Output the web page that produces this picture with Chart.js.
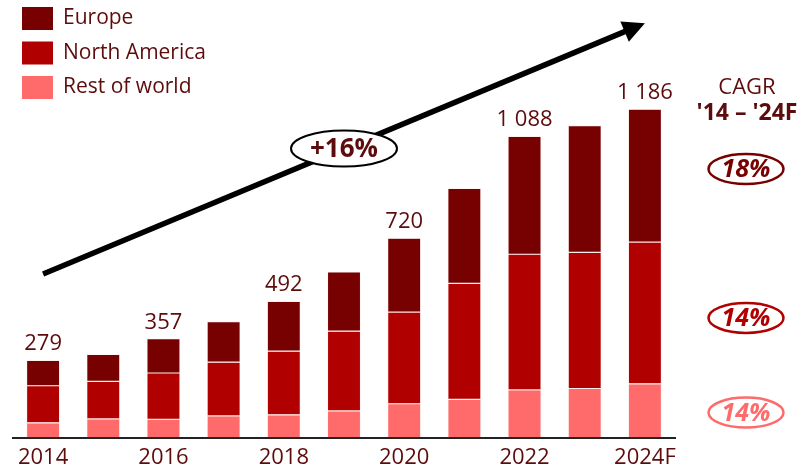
<!DOCTYPE html>
<html>
<head>
<meta charset="utf-8">
<script src="https://cdn.jsdelivr.net/npm/chart.js@4/dist/chart.umd.min.js"></script>
<style>
  html, body { margin: 0; padding: 0; background: #ffffff; }
  #wrap { position: relative; width: 811px; height: 466px; }
</style>
</head>
<body>
<div id="wrap"><canvas id="c" width="811" height="466"></canvas></div>
<script>
// ---- data ----
const categories = ['2014','2015','2016','2017','2018','2019','2020','2021','2022','2023','2024F'];
const tickLabels = ['2014','','2016','','2018','','2020','','2022','','2024F'];
const europe       = [92, 97, 124, 147, 180, 214, 267, 343, 426, 458, 480];
const northAmerica = [134, 136, 167, 194, 230, 288, 331, 419, 490, 492, 512];
const restOfWorld  = [53, 67, 66, 78, 82, 96, 122, 138, 172, 177, 194];
const totalLabelIdx = [0, 2, 4, 6, 8, 10];
const cagrLabels = ['18%', '14%', '14%'];
const overallCagr = '+16%';

// ---- styling ----
const C_EU = '#770000', C_NA = '#B10000', C_ROW = '#FF6B6B', C_TXT = '#5c0c0c';
const FONT = '"Open Sans", "DejaVu Sans", sans-serif';
const totals = categories.map((_, i) => europe[i] + northAmerica[i] + restOfWorld[i]);
function fmt(n) { const s = String(n); return s.length > 3 ? s.slice(0, s.length - 3) + ' ' + s.slice(-3) : s; }

const overlay = {
  id: 'overlay',
  afterDatasetsDraw(chart) {
    const ctx = chart.ctx, x = chart.scales.x, y = chart.scales.y, ca = chart.chartArea;
    ctx.save();
    // totals
    ctx.fillStyle = C_TXT;
    ctx.font = '22px ' + FONT;
    ctx.textAlign = 'center';
    ctx.textBaseline = 'alphabetic';
    totalLabelIdx.forEach(i => {
      ctx.fillText(fmt(totals[i]), x.getPixelForValue(i), y.getPixelForValue(totals[i]) - 10);
    });
    // legend
    const leg = [['Europe', C_EU], ['North America', C_NA], ['Rest of world', C_ROW]];
    ctx.textAlign = 'left';
    ctx.textBaseline = 'middle';
    ctx.font = '21px ' + FONT;
    leg.forEach((l, k) => {
      const yy = 7 + k * 34.5;
      ctx.fillStyle = l[1];
      ctx.fillRect(22, yy, 31, 23);
      ctx.fillStyle = C_TXT;
      ctx.fillText(l[0], 63, yy + 11.5);
    });
    // arrow
    const x0 = x.getPixelForValue(0), x1 = x.getPixelForValue(categories.length - 1);
    const y0 = y.getPixelForValue(591), y1 = y.getPixelForValue(1497);
    const ang = Math.atan2(y1 - y0, x1 - x0);
    const headL = 22, headW = 11;
    const bx = x1 - headL * Math.cos(ang), by = y1 - headL * Math.sin(ang);
    ctx.strokeStyle = '#000';
    ctx.lineWidth = 5.5;
    ctx.beginPath(); ctx.moveTo(x0, y0); ctx.lineTo(bx + 2 * Math.cos(ang), by + 2 * Math.sin(ang)); ctx.stroke();
    ctx.fillStyle = '#000';
    ctx.beginPath();
    ctx.moveTo(x1, y1);
    ctx.lineTo(bx + headW * Math.sin(ang), by - headW * Math.cos(ang));
    ctx.lineTo(bx - headW * Math.sin(ang), by + headW * Math.cos(ang));
    ctx.closePath(); ctx.fill();
    // +16% ellipse
    const mx = x.getPixelForValue(5), my = (y0 + y1) / 2;
    ctx.beginPath(); ctx.ellipse(mx, my, 53, 18, 0, 0, Math.PI * 2);
    ctx.fillStyle = '#fff'; ctx.fill();
    ctx.lineWidth = 2; ctx.strokeStyle = '#000'; ctx.stroke();
    ctx.fillStyle = C_TXT; ctx.textAlign = 'center'; ctx.textBaseline = 'middle';
    ctx.font = 'bold 26px ' + FONT;
    ctx.fillText(overallCagr, mx, my + 1);
    // CAGR column
    const cx = ca.right + 72;
    ctx.font = '22px ' + FONT;
    ctx.fillText('CAGR', cx, 88);
    ctx.font = 'bold 23px ' + FONT;
    ctx.fillText("'14 – '24F", cx, 113);
    const badges = [[970, C_EU], [432, C_NA], [90, C_ROW]];
    badges.forEach((b, k) => {
      const by2 = y.getPixelForValue(b[0]);
      ctx.beginPath(); ctx.ellipse(cx - 1, by2, 37.5, 15, 0, 0, Math.PI * 2);
      ctx.lineWidth = 2.5; ctx.strokeStyle = b[1]; ctx.stroke();
      ctx.fillStyle = b[1];
      ctx.font = 'italic bold 25px ' + FONT;
      ctx.fillText(cagrLabels[k], cx - 1, by2 + 1);
    });
    ctx.restore();
  }
};

new Chart(document.getElementById('c'), {
  type: 'bar',
  data: {
    labels: categories,
    datasets: [
      { label: 'Rest of world', data: restOfWorld, backgroundColor: C_ROW },
      { label: 'North America', data: northAmerica, backgroundColor: C_NA },
      { label: 'Europe', data: europe, backgroundColor: C_EU }
    ].map(d => Object.assign(d, { borderWidth: 0.6, borderColor: 'rgba(255,170,170,0.35)', borderSkipped: false, stack: 's', categoryPercentage: 1, barPercentage: 0.55 }))
  },
  options: {
    responsive: false,
    animation: false,
    layout: { padding: { top: 50, left: 13, right: 136, bottom: 0 } },
    plugins: { legend: { display: false }, tooltip: { enabled: false } },
    scales: {
      x: {
        stacked: true,
        grid: { display: false, drawTicks: false, tickLength: 0 },
        border: { display: true, color: '#222', width: 2 },
        afterFit: (s) => { s.height = 28.5; },
        ticks: {
          autoSkip: false, maxRotation: 0, padding: 9,
          color: C_TXT, font: { family: FONT, size: 22, lineHeight: 1.0 },
          callback: (v, i) => tickLabels[i]
        }
      },
      y: { stacked: true, display: false, min: 0, max: 1400 }
    }
  },
  plugins: [overlay]
});
</script>
</body>
</html>
